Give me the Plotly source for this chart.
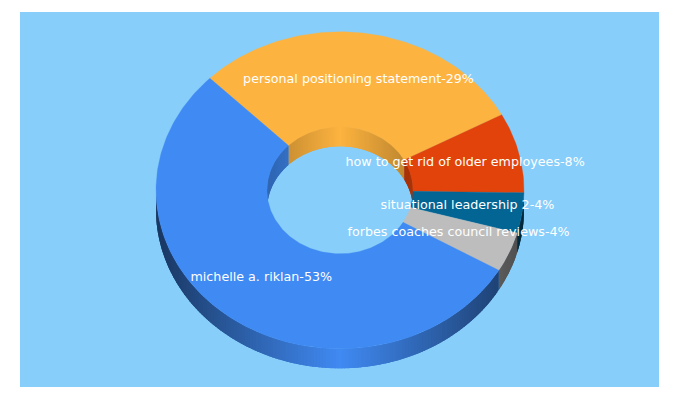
import math
import plotly.graph_objects as go

# ---- data ----
labels = ["personal positioning statement", "how to get rid of older employees",
          "situational leadership 2", "forbes coaches council reviews", "michelle a. riklan"]
shares = [29, 8, 4, 4, 53]
colors = ["#FDB33F", "#E2430A", "#036594", "#BDBDBD", "#408AF3"]

# ---- chart styling ----
BG = "#87CEFA"
START = -45.0
CX, CY = 340.0, 190.3
RX, RY = 184.0, 158.5
IX, IY = 73.0, 63.5
DEPTH = 19.5
LABEL_R = 0.70


def pt(theta, rx, ry, dy=0.0):
    t = math.radians(theta)
    return CX + rx * math.sin(t), CY - ry * math.cos(t) + dy


def shade(col, f):
    r, g, b = (int(col[i:i + 2], 16) for i in (1, 3, 5))
    return f"rgb({r * f:.0f},{g * f:.0f},{b * f:.0f})"


def arc(a, b, rx, ry, dy=0.0, step=1.0):
    n = max(2, int(abs(b - a) / step) + 1)
    return [pt(a + (b - a) * i / (n - 1), rx, ry, dy) for i in range(n)]


def poly(points, color, lw=0.5):
    pts = points + [points[0]]
    return go.Scatter(x=[p[0] for p in pts], y=[p[1] for p in pts], mode="lines",
                      fill="toself", fillcolor=color, line=dict(color=color, width=lw),
                      hoverinfo="skip", showlegend=False)


total = sum(shares)
spans, a = [], START
for s in shares:
    spans.append((a, a + 360.0 * s / total))
    a = spans[-1][1]

fig = go.Figure()


def walls(lo, hi, rx, ry, col, strength):
    """Gradient side wall between angles lo..hi as overlapping opaque strips."""
    step = 1.0
    th = lo
    while th < hi - 1e-6:
        nx = min(th + step, hi)
        end = min(nx + 1.5, hi)          # overlap the next strip so no seam shows
        x_mid = pt((th + nx) / 2, rx, ry)[0]
        f = 1 - strength * abs(x_mid - CX) / rx
        strip = arc(th, end, rx, ry, 0, 0.5) + arc(end, th, rx, ry, DEPTH, 0.5)
        fig.add_trace(poly(strip, shade(col, f), 0))
        th = nx


# outer wall: front half (90..270 clockwise from top); inner wall: back half (-90..90)
for (a0, a1), col in zip(spans, colors):
    for k in (-1, 0, 1):
        lo, hi = max(a0 + 360 * k, 90), min(a1 + 360 * k, 270)
        if lo < hi:
            walls(lo, hi, RX, RY, col, 0.6)
        lo, hi = max(a0 + 360 * k, -90), min(a1 + 360 * k, 90)
        if lo < hi:
            walls(lo, hi, IX, IY, col, 0.27)

# top face
for (a0, a1), col in zip(spans, colors):
    fig.add_trace(poly(arc(a0, a1, RX, RY) + arc(a1, a0, IX, IY), col, 0.3))

# labels
mids = [(a0 + a1) / 2 for a0, a1 in spans]
lab_pts = [pt(m, RX * LABEL_R, RY * LABEL_R, -0.8) for m in mids]
fig.add_trace(go.Scatter(
    x=[p[0] for p in lab_pts], y=[p[1] for p in lab_pts], mode="text",
    text=[f"{l}-{s}%" for l, s in zip(labels, shares)],
    textposition="middle center",
    textfont=dict(family="DejaVu Sans", size=12.7, color="white"),
    hoverinfo="text", showlegend=False))

fig.update_layout(
    width=664, height=384, autosize=False,
    margin=dict(l=12, r=13, t=4, b=5, pad=0),
    paper_bgcolor="white", plot_bgcolor=BG,
    xaxis=dict(range=[20, 659], visible=False, fixedrange=True),
    yaxis=dict(range=[387, 12], visible=False, fixedrange=True),
)
fig.write_html("out.html", config={"displayModeBar": False})
